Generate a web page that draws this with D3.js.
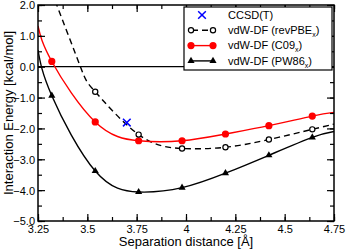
<!DOCTYPE html>
<html>
<head>
<meta charset="utf-8">
<script src="https://cdn.jsdelivr.net/npm/d3@7"></script>
<style>
    body { margin: 0; background: #fff; }
    svg { display: block; font-family: "Liberation Sans", Arial, sans-serif; }
    .tick-label { font-size: 11px; fill: #000; }
</style>
</head>
<body>
<svg id="chart" width="346" height="252"></svg>
<script>
// data
const sepX= [3.32, 3.54, 3.76, 3.98, 4.20, 4.42, 4.64]
const revPBE= [null, -0.81, -2.20, -2.65, -2.61, -2.36, -2.03]
const c09= [0.17, -1.79, -2.40, -2.40, -2.18, -1.91, -1.60]
const pw86= [-0.94, -3.38, -4.06, -3.92, -3.45, -2.87, -2.29]
const ccsdX= [3.70]
const ccsdY= [-1.81]

// fitted curves
const revPBEFitX= [3.33, 3.345, 3.465, 3.54, 3.76, 3.98, 4.20, 4.42, 4.64, 4.75]
const revPBEFitY= [2.25, 2.0, 0.0, -0.81, -2.20, -2.65, -2.61, -2.36, -2.03, -1.86]
const c09FitX= [3.25, 3.32, 3.54, 3.76, 3.98, 4.20, 4.42, 4.64, 4.75]
const c09FitY= [1.32, 0.17, -1.79, -2.40, -2.40, -2.18, -1.91, -1.60, -1.48]
const pw86FitX= [3.25, 3.32, 3.54, 3.76, 3.98, 4.20, 4.42, 4.64, 4.75]
const pw86FitY= [0.54, -0.94, -3.38, -4.06, -3.92, -3.45, -2.87, -2.29, -2.10]

const xTicks= [3.25, 3.5, 3.75, 4, 4.25, 4.5, 4.75]
const yTicks= [2, 1, 0, -1, -2, -3, -4, -5]

// layout
const margin= {left: 38, right: 12, top: 5, bottom: 31}
const W= 346, H= 252
const svg= d3.select("#chart")

const x= d3.scaleLinear().domain([3.25, 4.75]).range([margin.left, W - margin.right])
const y= d3.scaleLinear().domain([-5, 2]).range([H - margin.bottom, margin.top])

const pBottom= y(-5), pTop= y(2), pLeft= x(3.25), pRight= x(4.75)

svg.append("clipPath").attr("id", "plotclip")
    .append("rect")
    .attr("x", pLeft).attr("y", pTop)
    .attr("width", pRight - pLeft).attr("height", pBottom - pTop)

// zero line
svg.append("line")
    .attr("x1", pLeft).attr("x2", pRight)
    .attr("y1", y(0)).attr("y2", y(0))
    .attr("stroke", "#000").attr("stroke-width", 1.2)

// curves
const line= d3.line().x(d => x(d[0])).y(d => y(d[1])).curve(d3.curveNatural)
const plot= svg.append("g").attr("clip-path", "url(#plotclip)")

plot.append("path")
    .attr("d", line(d3.zip(revPBEFitX, revPBEFitY)))
    .attr("fill", "none").attr("stroke", "#000").attr("stroke-width", 1.4)
    .attr("stroke-dasharray", "6,4")
plot.append("path")
    .attr("d", line(d3.zip(c09FitX, c09FitY)))
    .attr("fill", "none").attr("stroke", "#ff0000").attr("stroke-width", 1.4)
plot.append("path")
    .attr("d", line(d3.zip(pw86FitX, pw86FitY)))
    .attr("fill", "none").attr("stroke", "#000").attr("stroke-width", 1.4)

// markers
const tri= d3.symbol().type(d3.symbolTriangle).size(22)
const cross= d3.symbol().type(d3.symbolX).size(40)

plot.selectAll(".m-pw86")
    .data(d3.zip(sepX, pw86))
    .join("path")
    .attr("d", tri)
    .attr("transform", d => `translate(${x(d[0])},${y(d[1])})`)
    .attr("fill", "#000")

plot.selectAll(".m-c09")
    .data(d3.zip(sepX, c09))
    .join("circle")
    .attr("cx", d => x(d[0])).attr("cy", d => y(d[1]))
    .attr("r", 3.6).attr("fill", "#ff0000")

plot.selectAll(".m-rev")
    .data(d3.zip(sepX, revPBE).filter(d => d[1] !== null))
    .join("circle")
    .attr("cx", d => x(d[0])).attr("cy", d => y(d[1]))
    .attr("r", 2.6).attr("fill", "#fff").attr("stroke", "#000").attr("stroke-width", 1.2)

plot.selectAll(".m-ccsd")
    .data(d3.zip(ccsdX, ccsdY))
    .join("path")
    .attr("d", cross)
    .attr("transform", d => `translate(${x(d[0])},${y(d[1])})`)
    .attr("fill", "none").attr("stroke", "#0000ff").attr("stroke-width", 1.5)

// axes, ticks inward on all sides
const xMinor= d3.range(3.25, 4.751, 0.125)
const yMinor= d3.range(-5, 2.01, 0.5)

function addAxis(axisFn, scale, ticks, size, transform) {
    const g= svg.append("g").attr("transform", transform)
        .call(axisFn(scale).tickValues(ticks).tickSize(size).tickFormat(""))
    g.select(".domain").remove()
    g.selectAll(".tick line").attr("stroke", "#000").attr("stroke-width", 1.2)
    return g
}

addAxis(d3.axisBottom, x, xMinor, -4, `translate(0,${pBottom})`)
addAxis(d3.axisTop, x, xMinor, -4, `translate(0,${pTop})`)
addAxis(d3.axisLeft, y, yMinor, -4, `translate(${pLeft},0)`)
addAxis(d3.axisRight, y, yMinor, -4, `translate(${pRight},0)`)
addAxis(d3.axisTop, x, xTicks, -7, `translate(0,${pTop})`)
addAxis(d3.axisRight, y, yTicks, -7, `translate(${pRight},0)`)

const xAx= addAxis(d3.axisBottom, x, xTicks, -7, `translate(0,${pBottom})`)
xAx.selectAll(".tick").append("text")
    .attr("class", "tick-label")
    .attr("y", 12).attr("text-anchor", "middle")
    .text(d => d3.format("")(d))

const yAx= addAxis(d3.axisLeft, y, yTicks, -7, `translate(${pLeft},0)`)
yAx.selectAll(".tick").append("text")
    .attr("class", "tick-label")
    .attr("x", -3).attr("dy", "0.35em").attr("text-anchor", "end")
    .text(d => d3.format(".1f")(d))

// frame
svg.append("rect")
    .attr("x", pLeft).attr("y", pTop)
    .attr("width", pRight - pLeft).attr("height", pBottom - pTop)
    .attr("fill", "none").attr("stroke", "#000").attr("stroke-width", 1.5)

// axis titles
svg.append("text")
    .attr("x", 186).attr("y", 245.5)
    .attr("text-anchor", "middle").attr("font-size", 13)
    .text("Separation distance [Å]")
svg.append("text")
    .attr("transform", `translate(12.5,${(pTop + pBottom) / 2}) rotate(-90)`)
    .attr("text-anchor", "middle").attr("font-size", 13)
    .text("Interaction Energy [kcal/mol]")

// legend
const legend= svg.append("g").attr("transform", "translate(184,7)")
legend.append("rect")
    .attr("width", 148).attr("height", 63)
    .attr("fill", "#fff").attr("stroke", "#000").attr("stroke-width", 1.2)

const legendNames= ["CCSD(T)", "vdW-DF (revPBE", "vdW-DF (C09", "vdW-DF (PW86"]
const rowGap= 15.3
const legendRows= legend.selectAll(".row")
    .data(legendNames)
    .join("g")
    .attr("transform", (d, i) => `translate(0,${8 + i * rowGap})`)

legendRows.append("text")
    .attr("x", 44).attr("dy", "0.35em").attr("font-size", 11)
    .each(function(d, i) {
        const t= d3.select(this)
        t.append("tspan").text(d)
        if (i > 0) {
            t.append("tspan").attr("font-size", 7).attr("dy", 3).text("x")
            t.append("tspan").attr("dy", -3).text(")")
        }
    })

// legend swatches
const sw0= 7, sw1= 29
legend.append("path").attr("d", cross)
    .attr("transform", `translate(${(sw0 + sw1) / 2},8)`)
    .attr("fill", "none").attr("stroke", "#0000ff").attr("stroke-width", 1.5)

const r1= 8 + rowGap
legend.append("line").attr("x1", sw0).attr("x2", sw1).attr("y1", r1).attr("y2", r1)
    .attr("stroke", "#000").attr("stroke-width", 1.4).attr("stroke-dasharray", "6,4")
    .attr("stroke-dashoffset", -1)
legend.selectAll(".lrev").data([sw0, sw1]).join("circle")
    .attr("cx", d => d).attr("cy", r1).attr("r", 2.6)
    .attr("fill", "#fff").attr("stroke", "#000").attr("stroke-width", 1.2)

const r2= 8 + rowGap * 2
legend.append("line").attr("x1", sw0).attr("x2", sw1).attr("y1", r2).attr("y2", r2)
    .attr("stroke", "#ff0000").attr("stroke-width", 1.4)
legend.selectAll(".lc09").data([sw0, sw1]).join("circle")
    .attr("cx", d => d).attr("cy", r2).attr("r", 3.6).attr("fill", "#ff0000")

const r3= 8 + rowGap * 3
legend.append("line").attr("x1", sw0).attr("x2", sw1).attr("y1", r3).attr("y2", r3)
    .attr("stroke", "#000").attr("stroke-width", 1.4)
legend.selectAll(".lpw").data([sw0, sw1]).join("path")
    .attr("d", tri).attr("transform", d => `translate(${d},${r3})`).attr("fill", "#000")
</script>
</body>
</html>
